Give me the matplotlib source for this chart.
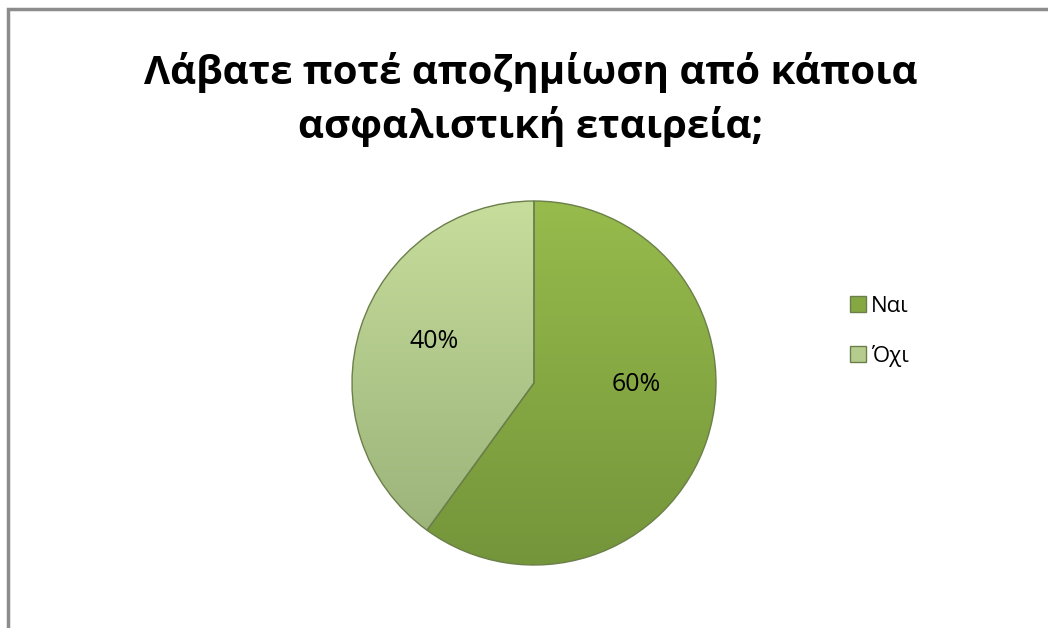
import numpy as np
import matplotlib
matplotlib.use("Agg")
import matplotlib.pyplot as plt
from matplotlib.colors import LinearSegmentedColormap
from matplotlib.patches import Rectangle

plt.rcParams['font.family'] = ['Open Sans', 'DejaVu Sans']

title = "Λάβατε ποτέ αποζημίωση από κάποια\nασφαλιστική εταιρεία;"
labels = ["Ναι", "Όχι"]
shares = [60, 40]
colors_top = ["#97bb4c", "#c6dd9c"]
colors_bottom = ["#74953a", "#98af77"]

fig = plt.figure(figsize=(10.48, 6.28), dpi=100)
fig.patch.set_facecolor("white")

# outer chart frame (runs past the right and bottom edges)
fig.add_artist(Rectangle((8 / 1048, -0.1), 1.2, 1.1 - 9 / 628,
                         transform=fig.transFigure, fill=False,
                         edgecolor="#8c8c8c", lw=2.5))

fig.text(0.506, 0.842, title, ha="center", va="center", fontsize=29,
         fontweight="bold", linespacing=1.4)

cx, cy, r = 534 / 1048, 1 - 383 / 628, 182
ax = fig.add_axes([cx - r / 1048, cy - r / 628, 2 * r / 1048, 2 * r / 628])

wedges, texts, autotexts = ax.pie(
    shares, startangle=90, counterclock=False, colors=colors_top,
    autopct="%d%%", pctdistance=0.58,
    wedgeprops=dict(edgecolor="#6b7f4a", linewidth=1.0),
    textprops=dict(fontsize=18, color="black"))
ax.set_xlim(-1, 1)
ax.set_ylim(-1, 1)
ax.set_aspect("auto")

# vertical shading inside each slice
grad = np.linspace(0, 1, 256).reshape(-1, 1)
for w, ct, cb in zip(wedges, colors_top, colors_bottom):
    cmap = LinearSegmentedColormap.from_list("s", [cb, ct])
    im = ax.imshow(grad, cmap=cmap, extent=[-1, 1, -1, 1], origin="lower",
                   aspect="auto", zorder=w.get_zorder() + 0.1)
    im.set_clip_path(w)
    w.set_facecolor("none")
    w.set_zorder(w.get_zorder() + 0.2)

autotexts[0].set_position((0.56, -0.01))
autotexts[1].set_position((-0.55, 0.23))
for t in autotexts:
    t.set_zorder(10)
ax.axis("off")

leg = fig.legend(wedges, labels, loc="upper left",
                 bbox_to_anchor=(830 / 1048, 1 - 276 / 628), frameon=False,
                 fontsize=16, handlelength=0.7, handleheight=0.7,
                 handletextpad=0.25, labelspacing=1.25)
for h, c in zip(leg.legend_handles, ["#86a843", "#b5cc8e"]):
    h.set_facecolor(c)
    h.set_edgecolor("#6b7f4a")

fig.savefig("out.png", dpi=100)
